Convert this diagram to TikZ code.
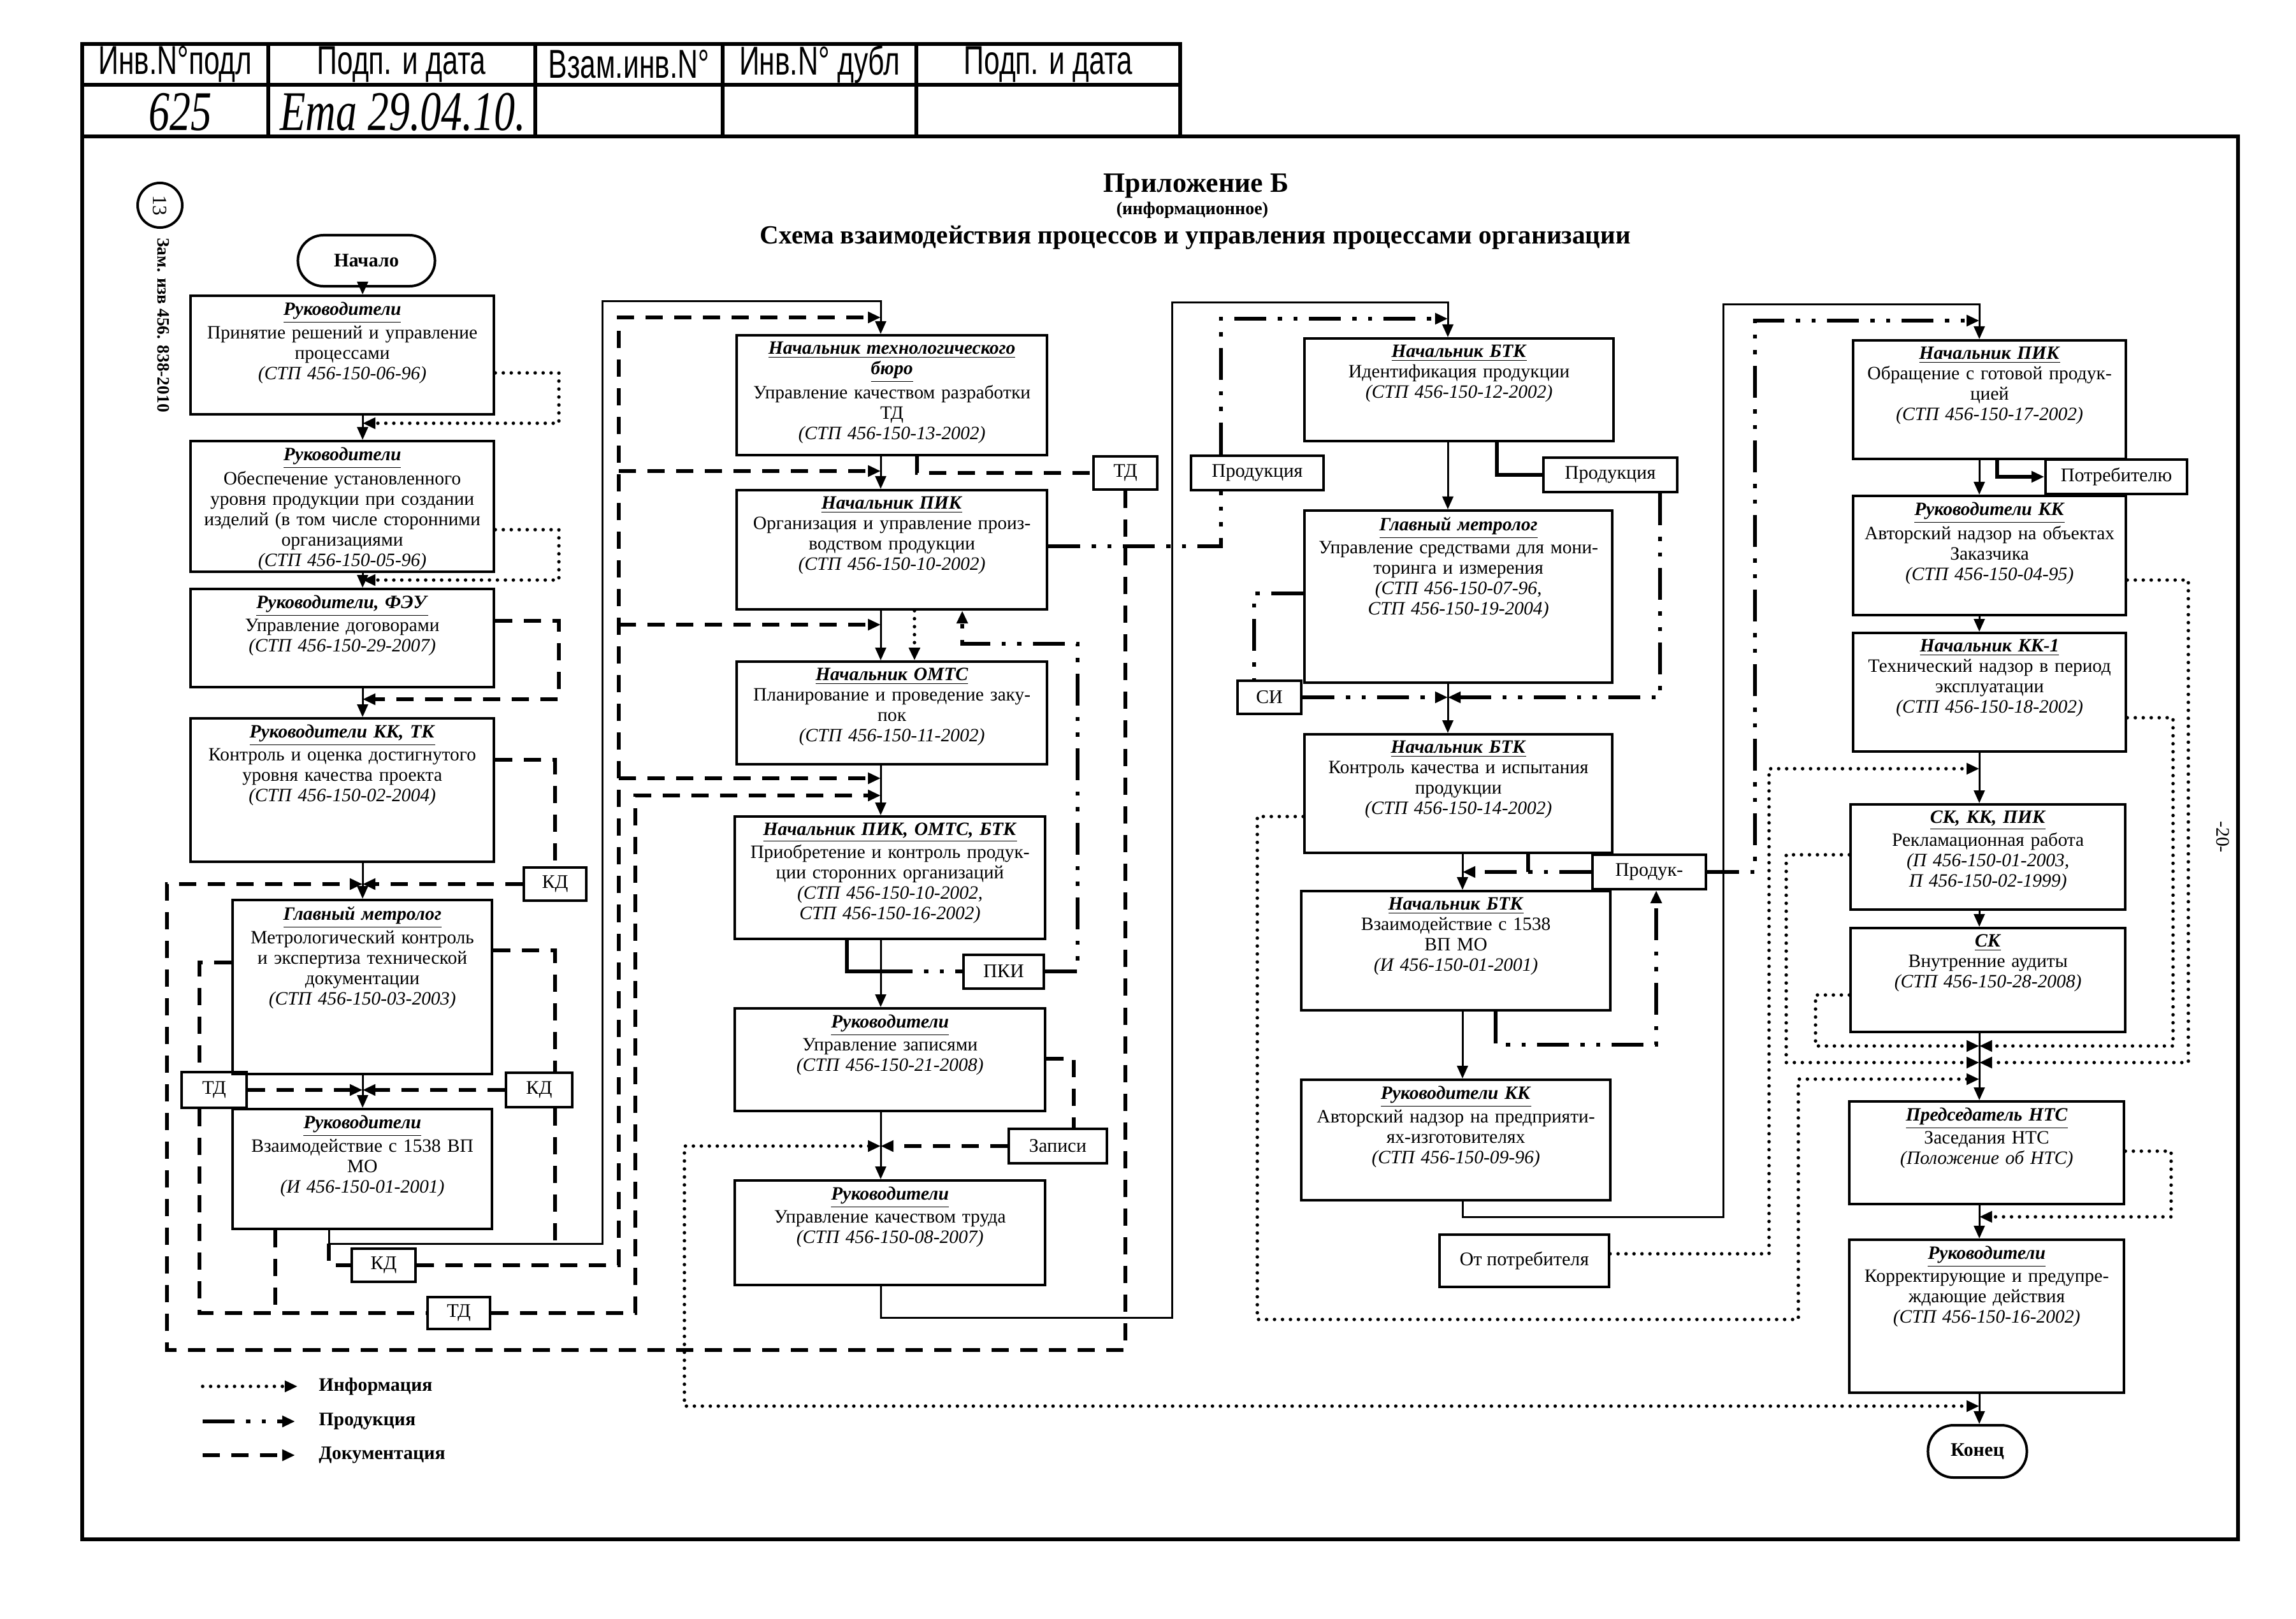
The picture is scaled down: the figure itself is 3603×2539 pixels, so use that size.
\documentclass[tikz,border=0pt]{standalone}
\usepackage{fontspec}
\setmainfont{Liberation Serif}
\newfontfamily\hdrfont{Liberation Sans}
\usetikzlibrary{arrows.meta}
\newcommand\hd[1]{\underline{\textbf{\textit{#1}}}}
\newcommand\rf[1]{\textit{#1}}
\newcommand\hdrtxt[1]{\scalebox{0.7}[1]{\hdrfont\fontsize{18}{18}\selectfont #1}}
\newcommand\hand[1]{\scalebox{0.75}[1]{\itshape\fontsize{25}{25}\selectfont #1}}
\newcommand\procbox[6]{%
  \pgfmathsetmacro\pbw{(#4-#2)/100}%
  \pgfmathsetmacro\pbh{(#5-#3)/100}%
  \pgfmathsetmacro\pbt{(#4-#2)/100-0.05}%
  \node[box,minimum width=\pbw cm,minimum height=\pbh cm,anchor=north west] (#1) at (#2,#3) {};
  \node[btext,text width=\pbt cm,anchor=north] (#1t) at ([yshift=-0.11cm]#1.north) {#6};
}
\begin{document}
\begin{tikzpicture}[x=0.01cm,y=-0.01cm,
  box/.style={draw,line width=0.04cm,inner sep=0},
  btext/.style={align=center,inner sep=0,font=\fontsize{8.4}{9.1}\selectfont},
  lbl/.style={draw,line width=0.04cm,inner sep=0,font=\fontsize{8.6}{10}\selectfont},
  term/.style={draw,line width=0.04cm,rounded corners=0.4cm,inner sep=0,font=\bfseries\fontsize{8.6}{10}\selectfont},
  flow/.style={line width=0.03cm},
  thk/.style={line width=0.065cm},
  info/.style={line width=0.055cm,line cap=round,dash pattern=on 0pt off 0.125cm},
  doc/.style={line width=0.065cm,dash pattern=on 0.27cm off 0.18cm},
  prod/.style={line width=0.065cm,dash pattern=on 0.5cm off 0.18cm on 0.065cm off 0.18cm on 0.065cm off 0.18cm},
  arr/.style={-{Triangle[length=0.2cm,width=0.17cm]}},
  arrb/.style={{Triangle[length=0.2cm,width=0.17cm]}-{Triangle[length=0.2cm,width=0.17cm]}},
  hline/.style={line width=0.06cm}
]
\useasboundingbox (0,0) rectangle (3603,2539);

% ---------- header table and frame ----------
\draw[hline] (129,69) rectangle (1852,214);
\draw[hline] (129,133) -- (1852,133);
\foreach \xx in {421,840,1134,1438} \draw[hline] (\xx,69) -- (\xx,214);
\draw[hline] (1852,214) -- (3512,214) -- (3512,2415) -- (129,2415) -- (129,214);
\node (h1) at (275,101) {\hdrtxt{Инв.N°подл}};
\node (h2) at (630,101) {\hdrtxt{Подп. и дата}};
\node (h3) at (987,101) {\hdrtxt{Взам.инв.N°}};
\node (h4) at (1286,101) {\hdrtxt{Инв.N° дубл}};
\node (h5) at (1645,101) {\hdrtxt{Подп. и дата}};
\node (v1) at (283,176) {\hand{625}};
\node (v2) at (632,176) {\hand{Ета 29.04.10.}};

% ---------- titles ----------
\node[font=\bfseries\fontsize{12.5}{14}\selectfont] (t1) at (1877,292) {Приложение Б};
\node[font=\bfseries\fontsize{8}{9}\selectfont] (t2) at (1871,330) {(информационное)};
\node[font=\bfseries\fontsize{11.7}{14}\selectfont] (t3) at (1876,373) {Схема взаимодействия процессов и управления процессами организации};
\node[draw,circle,line width=0.04cm,minimum size=0.7cm,inner sep=0,rotate=-90,font=\fontsize{9}{10}\selectfont] (c13) at (251,322) {13};
\node[rotate=-90,font=\bfseries\fontsize{7.8}{9}\selectfont] (zam) at (256,510) {Зам. изв 456. 838-2010};
\node[rotate=-90,font=\fontsize{8.5}{10}\selectfont] (p20) at (3488,1313) {-20-};

% ---------- column coordinates ----------
\coordinate (x1) at (569,0);
\coordinate (x2) at (1382,0);
\coordinate (x3a) at (2272,0);
\coordinate (x3b) at (2295,0);
\coordinate (x4) at (3106,0);

% ---------- column 1 ----------
\node[term,minimum width=2.15cm,minimum height=0.8cm] (start) at (575,409) {Начало};
\procbox{b1}{297}{462}{773}{648}{\hd{Руководители}\\Принятие решений и управление\\процессами\\\rf{(СТП 456-150-06-96)}}
\procbox{b2}{297}{690}{773}{895}{\hd{Руководители}\\Обеспечение установленного\\уровня продукции при создании\\изделий (в том числе сторонними\\организациями\\\rf{(СТП 456-150-05-96)}}
\procbox{b3}{297}{922}{773}{1076}{\hd{Руководители, ФЭУ}\\Управление договорами\\\rf{(СТП 456-150-29-2007)}}
\procbox{b4}{297}{1125}{773}{1350}{\hd{Руководители КК, ТК}\\Контроль и оценка достигнутого\\уровня качества проекта\\\rf{(СТП 456-150-02-2004)}}
\procbox{b5}{363}{1410}{770}{1683}{\hd{Главный метролог}\\Метрологический контроль\\и экспертиза технической\\документации\\\rf{(СТП 456-150-03-2003)}}
\procbox{b6}{363}{1738}{770}{1926}{\hd{Руководители}\\Взаимодействие с 1538 ВП\\МО\\\rf{(И 456-150-01-2001)}}

% ---------- column 2 ----------
\procbox{c1}{1154}{524}{1641}{712}{\hd{Начальник технологического}\\\hd{бюро}\\Управление качеством разработки\\ТД\\\rf{(СТП 456-150-13-2002)}}
\procbox{c2}{1154}{767}{1641}{954}{\hd{Начальник ПИК}\\Организация и управление произ-\\водством продукции\\\rf{(СТП 456-150-10-2002)}}
\procbox{c3}{1154}{1036}{1641}{1197}{\hd{Начальник ОМТС}\\Планирование и проведение заку-\\пок\\\rf{(СТП 456-150-11-2002)}}
\procbox{c4}{1151}{1279}{1638}{1471}{\hd{Начальник ПИК, ОМТС, БТК}\\Приобретение и контроль продук-\\ции сторонних организаций\\\rf{(СТП 456-150-10-2002,}\\\rf{СТП 456-150-16-2002)}}
\procbox{c5}{1151}{1580}{1638}{1741}{\hd{Руководители}\\Управление записями\\\rf{(СТП 456-150-21-2008)}}
\procbox{c6}{1151}{1850}{1638}{2014}{\hd{Руководители}\\Управление качеством труда\\\rf{(СТП 456-150-08-2007)}}

% ---------- column 3 ----------
\procbox{d1}{2045}{529}{2530}{690}{\hd{Начальник БТК}\\Идентификация продукции\\\rf{(СТП 456-150-12-2002)}}
\procbox{d2}{2045}{799}{2528}{1069}{\hd{Главный метролог}\\Управление средствами для мони-\\торинга и измерения\\\rf{(СТП 456-150-07-96,}\\\rf{СТП 456-150-19-2004)}}
\procbox{d3}{2045}{1150}{2528}{1336}{\hd{Начальник БТК}\\Контроль качества и испытания\\продукции\\\rf{(СТП 456-150-14-2002)}}
\procbox{d4}{2040}{1396}{2525}{1583}{\hd{Начальник БТК}\\Взаимодействие с 1538\\ВП МО\\\rf{(И 456-150-01-2001)}}
\procbox{d5}{2040}{1692}{2525}{1881}{\hd{Руководители КК}\\Авторский надзор на предприяти-\\ях-изготовителях\\\rf{(СТП 456-150-09-96)}}

% ---------- column 4 ----------
\procbox{e1}{2906}{532}{3334}{718}{\hd{Начальник ПИК}\\Обращение с готовой продук-\\цией\\\rf{(СТП 456-150-17-2002)}}
\procbox{e2}{2906}{776}{3334}{963}{\hd{Руководители КК}\\Авторский надзор на объектах\\Заказчика\\\rf{(СТП 456-150-04-95)}}
\procbox{e3}{2906}{991}{3334}{1177}{\hd{Начальник КК-1}\\Технический надзор в период\\эксплуатации\\\rf{(СТП 456-150-18-2002)}}
\procbox{e4}{2902}{1260}{3333}{1425}{\hd{СК, КК, ПИК}\\Рекламационная работа\\\rf{(П 456-150-01-2003,}\\\rf{П 456-150-02-1999)}}
\procbox{e5}{2902}{1454}{3333}{1617}{\hd{СК}\\Внутренние аудиты\\\rf{(СТП 456-150-28-2008)}}
\procbox{e6}{2900}{1726}{3331}{1887}{\hd{Председатель НТС}\\Заседания НТС\\\rf{(Положение об НТС)}}
\procbox{e7}{2900}{1943}{3331}{2183}{\hd{Руководители}\\Корректирующие и предупре-\\ждающие действия\\\rf{(СТП 456-150-16-2002)}}
\node[term,minimum width=1.55cm,minimum height=0.82cm] (end) at (3103,2277) {Конец};

% ---------- small labels ----------
\node[lbl,minimum width=0.98cm,minimum height=0.52cm] (kd1) at (871,1387) {КД};
\node[lbl,minimum width=1.02cm,minimum height=0.56cm] (tda) at (336,1710) {ТД};
\node[lbl,minimum width=1.03cm,minimum height=0.54cm] (kdb) at (846,1710) {КД};
\node[lbl,minimum width=1.0cm,minimum height=0.52cm] (kdc) at (602,1985) {КД};
\node[lbl,minimum width=0.98cm,minimum height=0.5cm] (tdd) at (720,2060) {ТД};
\node[lbl,minimum width=1.0cm,minimum height=0.52cm] (tde) at (1766,742) {ТД};
\node[lbl,minimum width=1.26cm,minimum height=0.53cm] (pki) at (1575,1524) {ПКИ};
\node[lbl,minimum width=1.53cm,minimum height=0.54cm] (zap) at (1660,1798) {Записи};
\node[lbl,minimum width=2.08cm,minimum height=0.54cm] (prl) at (1973,742) {Продукция};
\node[lbl,minimum width=2.1cm,minimum height=0.54cm] (prr) at (2527,745) {Продукция};
\node[lbl,minimum width=1.0cm,minimum height=0.52cm] (si) at (1992,1094) {СИ};
\node[lbl,minimum width=1.77cm,minimum height=0.54cm] (prk) at (2588,1368) {Продук-};
\node[lbl,minimum width=2.65cm,minimum height=0.82cm] (otp) at (2392,1978) {От потребителя};
\node[lbl,minimum width=2.22cm,minimum height=0.54cm] (potr) at (3321,748) {Потребителю};

% ---------- main solid flow ----------
\draw[flow,arr] (start.south -| x1) -- (b1.north -| x1);
\draw[flow,arr] (b1.south -| x1) -- (b2.north -| x1);
\draw[flow,arr] (b2.south -| x1) -- (b3.north -| x1);
\draw[flow,arr] (b3.south -| x1) -- (b4.north -| x1);
\draw[flow,arr] (b4.south -| x1) -- (b5.north -| x1);
\draw[flow,arr] (b5.south -| x1) -- (b6.north -| x1);
\draw[flow,arr] (b6.south -| 516,0) -- (516,1951) -- (945,1951) -- (945,472) -- (1382,472) -- (c1.north -| x2);
\draw[flow,arr] (c1.south -| x2) -- (c2.north -| x2);
\draw[flow,arr] (c2.south -| x2) -- (c3.north -| x2);
\draw[flow,arr] (c3.south -| x2) -- (c4.north -| x2);
\draw[flow,arr] (c4.south -| x2) -- (c5.north -| x2);
\draw[flow,arr] (c5.south -| x2) -- (c6.north -| x2);
\draw[flow,arr] (c6.south -| x2) -- (1382,2067) -- (1839,2067) -- (1839,474) -- (2272,474) -- (d1.north -| x3a);
\draw[flow,arr] (d1.south -| x3a) -- (d2.north -| x3a);
\draw[flow,arr] (d2.south -| x3a) -- (d3.north -| x3a);
\draw[flow,arr] (d3.south -| x3b) -- (d4.north -| x3b);
\draw[flow,arr] (d4.south -| x3b) -- (d5.north -| x3b);
\draw[flow,arr] (d5.south -| x3b) -- (2295,1909) -- (2704,1909) -- (2704,477) -- (3106,477) -- (e1.north -| x4);
\draw[flow,arr] (e1.south -| x4) -- (e2.north -| x4);
\draw[flow,arr] (e2.south -| x4) -- (e3.north -| x4);
\draw[flow,arr] (e3.south -| x4) -- (e4.north -| x4);
\draw[flow,arr] (e4.south -| x4) -- (e5.north -| x4);
\draw[flow,arr] (e5.south -| x4) -- (e6.north -| x4);
\draw[flow,arr] (e6.south -| x4) -- (e7.north -| x4);
\draw[flow,arr] (e7.south -| x4) -- (end.north -| x4);

% ---------- information (dotted) ----------
\draw[info,arr] (b1.east |- 0,585) -- (877,585) -- (877,664) -- (x1 |- 0,664);
\draw[info,arr] (b2.east |- 0,831) -- (877,831) -- (877,910) -- (x1 |- 0,910);
\draw[info,arr] (c2.south -| 1435,0) -- (c3.north -| 1435,0);
\draw[info,arrb] (x2 |- 0,1798) -- (1074,1798) -- (1074,2206) -- (x4 |- 0,2206);
\draw[info,arr] (d3.west |- 0,1281) -- (1973,1281) -- (1973,2070) -- (2822,2070) -- (2822,1693) -- (x4 |- 0,1693);
\draw[info,arr] (otp.east |- 0,1967) -- (2776,1967) -- (2776,1206) -- (x4 |- 0,1206);
\draw[info,arr] (e4.west |- 0,1341) -- (2803,1341) -- (2803,1667) -- (x4 |- 0,1667);
\draw[info,arr] (e5.west |- 0,1561) -- (2849,1561) -- (2849,1641) -- (x4 |- 0,1641);
\draw[info,arr] (e2.east |- 0,910) -- (3434,910) -- (3434,1667) -- (x4 |- 0,1667);
\draw[info,arr] (e3.east |- 0,1126) -- (3410,1126) -- (3410,1641) -- (x4 |- 0,1641);
\draw[info,arr] (e6.east |- 0,1806) -- (3407,1806) -- (3407,1909) -- (x4 |- 0,1909);

% ---------- documentation (dashed) ----------
\draw[doc,arr] (b3.east |- 0,974) -- (877,974) -- (877,1097) -- (x1 |- 0,1097);
\draw[doc] (b4.east |- 0,1192) -| (kd1.north);
\draw[doc,arr] (kd1.west) -- (x1 |- kd1.west);
\draw[doc,arr] (tde.south) -- (1766,2118) -- (262,2118) -- (262,1387) -- (x1 |- 0,1387);
\draw[doc] (c1.south -| 1439,0) |- (tde.west);
\draw[doc] (b5.east |- 0,1491) -- (871,1491) -- (kdb.north -| 871,0);
\draw[doc] (kdb.south -| 871,0) -- (871,1951);
\draw[doc,arr] (tda.east) -- (x1 |- tda.east);
\draw[doc,arr] (kdb.west) -- (x1 |- kdb.west);
\draw[doc] (b5.west |- 0,1510) -- (313,1510) -- (tda.north -| 313,0);
\draw[doc] (tda.south -| 313,0) -- (313,2060) -- (tdd.west);
\draw[doc] (b6.south -| 432,0) -- (432,2060);
\draw[doc,arr] (tdd.east) -- (997,2060) -- (997,1248) -- (x2 |- 0,1248);
\draw[doc,arr] (kdc.east) -- (971,1985) -- (971,498) -- (x2 |- 0,498);
\draw[doc,arr] (971,739) -- (x2 |- 0,739);
\draw[doc,arr] (971,980) -- (x2 |- 0,980);
\draw[doc,arr] (971,1221) -- (x2 |- 0,1221);
\draw[doc] (516,1951) -- (516,1985) -- (kdc.west);
\draw[doc] (c5.east |- 0,1661) -- (1685,1661) -- (zap.north -| 1685,0);
\draw[doc,arr] (zap.west) -- (x2 |- zap.west);

% ---------- product (dash-dot-dot) ----------
\draw[thk] (c4.south -| 1329,0) |- (pki.west -| 1382,0);
\draw[prod] (pki.west -| 1382,0) -- (pki.west);
\draw[prod,arr] (pki.east) -- (1691,1524) -- (1691,1010) -- (1510,1010) -- (c2.south -| 1510,0);
\draw[prod] (c2.east |- 0,857) -- (1916,857) -- (prl.south -| 1916,0);
\draw[prod,arr] (prl.north -| 1916,0) -- (1916,500) -- (x3a |- 0,500);
\draw[thk] (d1.south -| 2349,0) |- (prr.west);
\draw[prod,arr] (prr.south -| 2605,0) -- (2605,1094) -- (x3a |- 0,1094);
\draw[prod] (d2.west |- 0,931) -- (1968,931) -- (si.north -| 1968,0);
\draw[prod,arr] (si.east) -- (x3a |- si.east);
\draw[thk] (d3.south -| 2398,0) -- (2398,1368);
\draw[prod,arr] (prk.west) -- (x3b |- prk.west);
\draw[prod,arr] (prk.east) -- (2754,1368) -- (2754,503) -- (x4 |- 0,503);
\draw[prod,arr] (d4.south -| 2347,0) -- (2347,1639) -- (2599,1639) -- (prk.south -| 2599,0);
\draw[thk,arr] (e1.south -| 3134,0) |- (potr.west);

% ---------- legend ----------
\coordinate (l1a) at (318,2175); \coordinate (l1b) at (467,2175);
\coordinate (l2a) at (318,2230); \coordinate (l2b) at (463,2230);
\coordinate (l3a) at (318,2283); \coordinate (l3b) at (463,2283);
\draw[info,arr] (l1a) -- (l1b);
\draw[prod,arr] (l2a) -- (l2b);
\draw[doc,arr] (l3a) -- (l3b);
\node[anchor=west,font=\bfseries\fontsize{8.5}{10}\selectfont] (lg1) at (488,2175) {Информация};
\node[anchor=west,font=\bfseries\fontsize{8.5}{10}\selectfont] (lg2) at (488,2230) {Продукция};
\node[anchor=west,font=\bfseries\fontsize{8.5}{10}\selectfont] (lg3) at (488,2283) {Документация};
\end{tikzpicture}
\end{document}
